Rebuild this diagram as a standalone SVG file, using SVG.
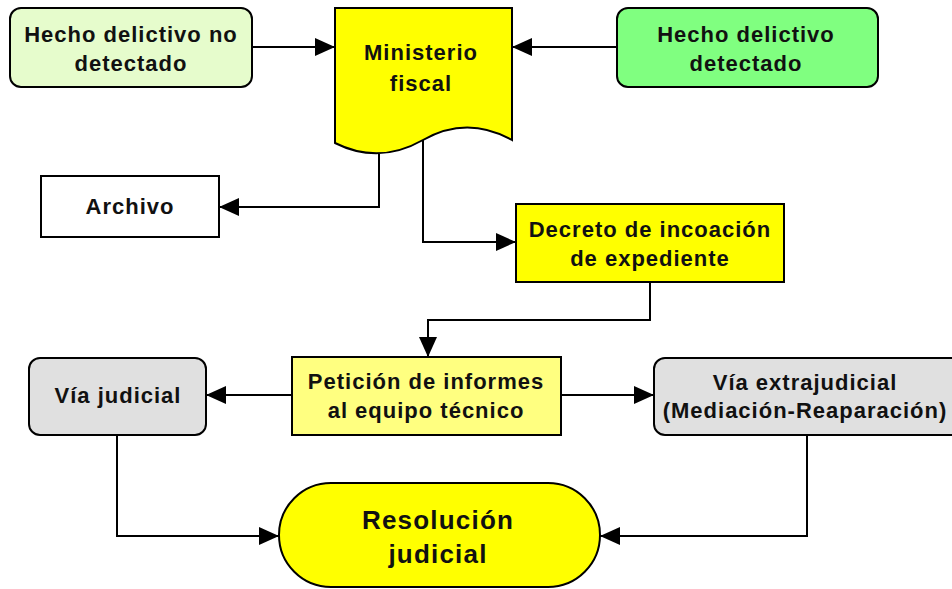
<svg xmlns="http://www.w3.org/2000/svg" width="952" height="589" viewBox="0 0 952 589">
<defs>
<marker id="ah" markerUnits="userSpaceOnUse" markerWidth="20" markerHeight="18" refX="20" refY="9" orient="auto">
<path d="M0,0 L20,9 L0,18 Z" fill="#000"/>
</marker>
</defs>
<style>
.n{stroke:#000;stroke-width:2}
.t{font-family:"Liberation Sans",Arial,sans-serif;font-weight:bold;font-size:22px;letter-spacing:1px;fill:#111;text-anchor:middle}
.big{font-size:26px;letter-spacing:1.2px}
.c{fill:none;stroke:#000;stroke-width:2;marker-end:url(#ah)}
</style>
<rect width="952" height="589" fill="#fff"/>
<g id="connectors">
<path class="c" d="M252,47 H335"/>
<path class="c" d="M617,47 H512"/>
<path class="c" d="M379,154 V207 H219"/>
<path class="c" d="M423,140 V242 H516"/>
<path class="c" d="M650,282 V320 H428 V357"/>
<path class="c" d="M292,395 H206"/>
<path class="c" d="M561,395 H654"/>
<path class="c" d="M117,435 V536 H279"/>
<path class="c" d="M807,435 V536 H600"/>
</g>
<g id="hecho-no-detectado">
<rect class="n" x="10" y="8" width="242" height="79" rx="11" fill="#e6fccc"/>
<text class="t" x="131" y="42">Hecho delictivo no</text>
<text class="t" x="131" y="71">detectado</text>
</g>
<g id="ministerio-fiscal">
<path class="n" d="M335,8 H512 V140 Q467,115 423,140 T335,143 Z" fill="#ffff00"/>
<text class="t" x="421" y="60">Ministerio</text>
<text class="t" x="421" y="91">fiscal</text>
</g>
<g id="hecho-detectado">
<rect class="n" x="617" y="8" width="261" height="79" rx="11" fill="#80ff80"/>
<text class="t" x="746" y="42">Hecho delictivo</text>
<text class="t" x="746" y="71">detectado</text>
</g>
<g id="archivo">
<rect class="n" x="41" y="176" width="178" height="61" fill="#fff"/>
<text class="t" x="130" y="214">Archivo</text>
</g>
<g id="decreto">
<rect class="n" x="516" y="204" width="268" height="78" fill="#ffff00"/>
<text class="t" x="650" y="237">Decreto de incoación</text>
<text class="t" x="650" y="266">de expediente</text>
</g>
<g id="peticion">
<rect class="n" x="292" y="357" width="269" height="78" fill="#ffff80"/>
<text class="t" x="426" y="389">Petición de informes</text>
<text class="t" x="426" y="418">al equipo técnico</text>
</g>
<g id="via-judicial">
<rect class="n" x="29" y="358" width="177" height="77" rx="11" fill="#e0e0e0"/>
<text class="t" x="118" y="403">Vía judicial</text>
</g>
<g id="via-extrajudicial">
<rect class="n" x="654" y="358" width="310" height="77" rx="11" fill="#e0e0e0"/>
<text class="t" x="805" y="390">Vía extrajudicial</text>
<text class="t" x="805" y="418">(Mediación-Reaparación)</text>
</g>
<g id="resolucion">
<rect class="n" x="279" y="483" width="321" height="104" rx="52" fill="#ffff00"/>
<text class="t big" x="438" y="529">Resolución</text>
<text class="t big" x="438" y="563">judicial</text>
</g>
</svg>
